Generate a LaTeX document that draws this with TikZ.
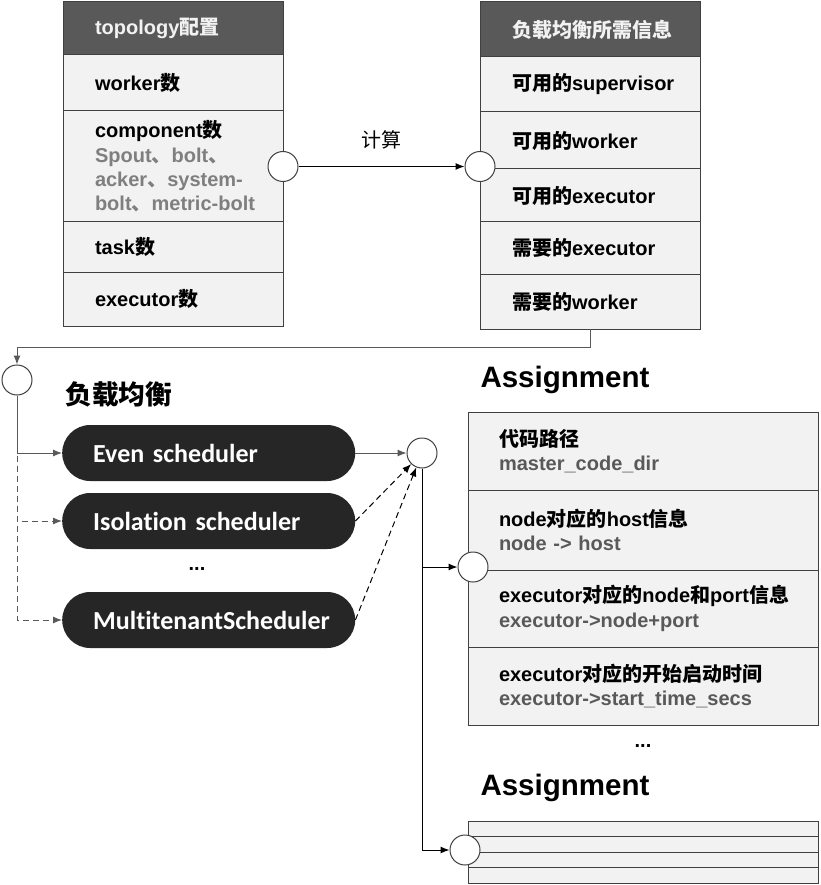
\documentclass[tikz,border=0pt]{standalone}
\usepackage{fontspec}
\setmainfont{Liberation Sans}
\newfontfamily\zhfont{Noto Sans CJK SC}
\newfontfamily\calfont{Carlito}[Ligatures=NoCommon]
\newcommand\zh[1]{{\zhfont#1}}
\usetikzlibrary{arrows.meta,positioning}
\definecolor{hdrgray}{HTML}{595959}
\definecolor{rowbg}{HTML}{F2F2F2}
\definecolor{edge}{HTML}{404040}
\definecolor{pilldark}{HTML}{262626}
\definecolor{ltgray}{HTML}{7F7F7F}
\definecolor{dkgray}{HTML}{595959}
\tikzset{cell/.style={draw=edge,fill=rowbg,line width=1pt,outer sep=0pt,align=left,inner xsep=32pt,inner ysep=0pt,text width=156pt,font=\fontsize{20}{24.3}\selectfont\bfseries},
hdrcell/.style={cell,fill=hdrgray,text=rowbg},
acell/.style={cell,inner xsep=31pt,text width=288pt,minimum height=78pt},
bcell/.style={draw=edge,fill=rowbg,line width=1pt,outer sep=0pt,inner sep=0pt,minimum width=350pt,minimum height=15.5pt},
pill/.style={fill=pilldark,rounded corners=28pt,minimum height=56pt,inner xsep=31pt,text width=231pt,align=left,text=white,font=\calfont\bfseries\fontsize{26}{30}\selectfont},
port/.style={circle,draw=black!75,fill=white,line width=1pt,minimum size=30pt,inner sep=0pt},
arr/.style={-{Latex[length=9pt,width=7pt]},line width=1pt},
atitle/.style={font=\bfseries\fontsize{29.5}{32}\selectfont}}

\begin{document}
\begin{tikzpicture}[x=1pt,y=-1pt]
\useasboundingbox (0,0) rectangle (820,885);
% topology table
\node[hdrcell,minimum height=53pt,anchor=north west] (topo) at (63,2) {topology\zh{配置}};
\node[cell,minimum height=56pt,below=0pt of topo] (nworker) {worker\zh{数}};
\node[cell,minimum height=111pt,below=0pt of nworker] (ncomp) {component\zh{数}\\\color{ltgray}Spout\zh{、}bolt\zh{、}\\acker\zh{、}system-\\\mbox{bolt\zh{、}metric-bolt}};
\node[cell,minimum height=50pt,below=0pt of ncomp] (ntask) {task\zh{数}};
\node[cell,minimum height=54pt,below=0pt of ntask] (nexec) {executor\zh{数}};
% balancing info table
\node[hdrcell,minimum height=55pt,anchor=north west] (lbinfo) at (480,2) {\zh{负载均衡所需信息}};
\node[cell,minimum height=55pt,below=0pt of lbinfo] (avsup) {\zh{可用的}supervisor};
\node[cell,minimum height=57pt,below=0pt of avsup] (avwk) {\zh{可用的}worker};
\node[cell,minimum height=53pt,below=0pt of avwk] (avexec) {\zh{可用的}executor};
\node[cell,minimum height=52pt,below=0pt of avexec] (ndexec) {\zh{需要的}executor};
\node[cell,minimum height=55pt,below=0pt of ndexec] (ndwk) {\zh{需要的}worker};
\node[port] (cA) at (ncomp.east) {};
\node[port] (cB) at (cA -| lbinfo.west) {};
\draw[arr] (cA) -- node[above=14pt,font=\zhfont\fontsize{20}{24}\selectfont] (calc) {计算} (cB);
% schedulers
\node[port] (cC) at (17,380) {};
\node[font=\zhfont\bfseries\fontsize{26.7}{30}\selectfont,anchor=west] (lbtitle) at (62,394) {负载均衡};
\node[pill,anchor=west] (even) at (62,453) {Even scheduler};
\node[pill,anchor=west] (iso) at (62,521) {Isolation scheduler};
\node[font=\bfseries\fontsize{20}{24}\selectfont] (dotsA) at (197,569) {...};
\node[pill,anchor=west] (multi) at (62,620) {MultitenantScheduler};
\draw[arr,dkgray] (ndwk.south) -- ++(0,18) -| (cC);
\draw[arr,dkgray,dash pattern=on 6pt off 4pt] (cC) |- (iso);
\draw[arr,dkgray,dash pattern=on 6pt off 4pt] (cC) |- (multi);
\draw[arr,dkgray] (cC) |- (even);
\node[port] (cD) at (422,453) {};
\draw[arr,dkgray] (even) -- (cD);
\draw[arr,dash pattern=on 6pt off 4pt] (iso.east) -- (cD);
\draw[arr,dash pattern=on 6pt off 4pt] (multi.east) -- (cD);
% assignments
\node[atitle,anchor=west] (asgtitle) at (477,380) {Assignment};
\node[acell,anchor=north west] (codedir) at (468,412) {\zh{代码路径}\\\color{dkgray}master\_code\_dir};
\node[acell,minimum height=80pt,below=0pt of codedir] (nodehost) {node\zh{对应的}host\zh{信息}\\\color{dkgray}node -> host};
\node[acell,minimum height=77pt,below=0pt of nodehost] (nodeport) {executor\zh{对应的}node\zh{和}port\zh{信息}\\\color{dkgray}executor->node+port};
\node[acell,below=0pt of nodeport] (starttime) {executor\zh{对应的开始启动时间}\\\color{dkgray}executor->start\_time\_secs};
\node[font=\bfseries\fontsize{20}{24}\selectfont] (dotsB) at (643,746) {...};
\node[atitle,anchor=west] (asgtitle2) at (477,788) {Assignment};
\node[bcell,anchor=north west] (b1) at (468,821) {};
\node[bcell,below=0pt of b1] (b2) {};
\node[bcell,below=0pt of b2] (b3) {};
\node[bcell,below=0pt of b3] (b4) {};
\node[port] (cE) at (473,567) {};
\node[port] (cF) at (465,850) {};
\draw[arr] (cD) |- (cE);
\draw[arr] (cD) |- (cF);
\end{tikzpicture}
\end{document}
